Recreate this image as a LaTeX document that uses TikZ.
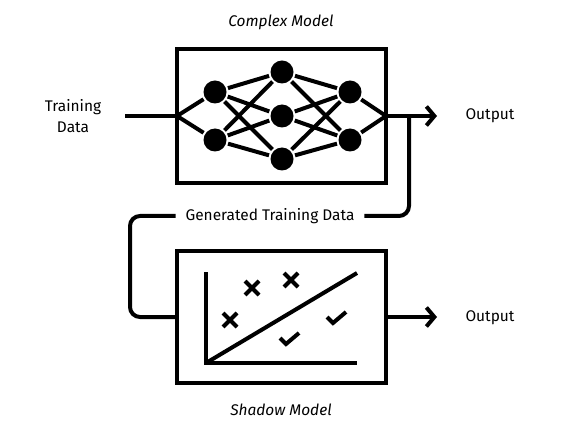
\documentclass[tikz,border=0pt]{standalone}
\usepackage{fontspec}
\setmainfont{Fira Sans}
\usepackage{tikz}
\usetikzlibrary{arrows.meta}

\begin{document}
\begin{tikzpicture}[x=1bp,y=-1bp,line width=4bp,
	neuron/.style={circle,fill=black,inner sep=0pt,minimum size=23bp},
	modelbox/.style={draw,line width=4bp,inner sep=0pt,outer sep=0pt,minimum width=209bp},
	lbl/.style={font=\fontsize{15.5}{21}\selectfont,align=center},
	title/.style={font=\fontsize{15.5}{21}\selectfont\itshape},
	outarrow/.style={-{Straight Barb[length=8bp,width=19bp]}}]
	\useasboundingbox (0,0) rectangle (563,438);
	
	%BOXES
	\node[modelbox,minimum height=134bp] (cm) at (281.5,116) {};
	\node[modelbox,minimum height=132bp] (sm) at (281.5,317) {};
	
	%LABELS
	\node[title] (cmlbl) at (281,22) {Complex Model};
	\node[title] (smlbl) at (281,410) {Shadow Model};
	\node[lbl] (tdata) at (73,116) {Training\\Data};
	\node[lbl] (out1) at (490,116) {Output};
	\node[lbl] (out2) at (490,318) {Output};
	\node[lbl,inner sep=8bp] (gen) at (270,216) {Generated Training Data};
	
	%NETWORK
	\node[neuron] (l1) at (215,92) {};
	\node[neuron] (l2) at (215,140) {};
	\node[neuron] (m1) at (282,72) {};
	\node[neuron] (m2) at (282,116) {};
	\node[neuron] (m3) at (282,159) {};
	\node[neuron] (r1) at (350,92) {};
	\node[neuron] (r2) at (350,140) {};
	\foreach \a in {l1,l2}{
		\draw (cm.west) -- (\a);
		\foreach \b in {m1,m2,m3} \draw (\a) -- (\b);
	}
	\foreach \a in {r1,r2}{
		\draw (cm.east) -- (\a);
		\foreach \b in {m1,m2,m3} \draw (\a) -- (\b);
	}
	
	%FLOW
	\coordinate (tin) at (125,116);
	\coordinate (a1) at (437,116);
	\coordinate (a2) at (437,317);
	\coordinate (split) at (409,116);
	\coordinate (loop) at (130,317);
	\draw (tin) -- (cm.west);
	\draw[outarrow] (cm.east) -- (a1);
	\draw[outarrow] (sm.east) -- (a2);
	\draw[rounded corners=10bp] (split) |- (gen.east);
	\draw[rounded corners=10bp] (gen.west) -| (loop) -- (sm.west);
	
	%PLOT
	\coordinate (o) at (206,363);
	\draw (206,272) -- (o) -- (357,363);
	\draw (o) -- (357,273);
	\foreach \x/\y in {252/288,291/280,230/320}
		\draw (\x-7,\y-7) -- (\x+7,\y+7) (\x-7,\y+7) -- (\x+7,\y-7);
	\foreach \x/\y in {287/343,334/322}
		\draw (\x-7,\y-5) -- (\x-1,\y+1) -- (\x+12,\y-10);
\end{tikzpicture}
\end{document}
